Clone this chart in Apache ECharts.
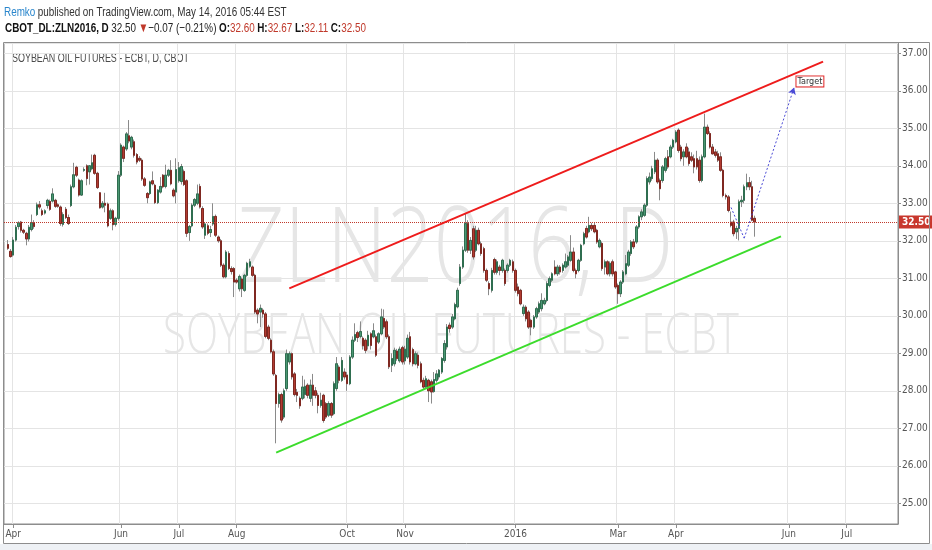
<!DOCTYPE html>
<html><head><meta charset="utf-8">
<script src="https://cdn.jsdelivr.net/npm/echarts@6/dist/echarts.min.js"></script>
<style>html,body{margin:0;padding:0;background:#fff}#c{width:932px;height:550px}</style>
</head><body><div id="c"></div>
<script>
// ---- data (daily candles, 2015-03-30 .. 2016-05-13) ----
const opens=[31.90,31.72,31.62,32.02,32.38,32.50,32.28,32.20,32.05,32.30,
32.48,32.70,32.96,32.80,32.74,32.94,33.05,33.06,33.08,32.96,
32.90,32.44,32.84,32.62,32.94,33.44,33.96,33.62,33.22,33.88,
34.00,33.84,33.92,34.28,33.80,33.28,32.90,33.00,32.98,32.60,
32.80,32.44,32.60,33.75,34.50,34.45,34.80,34.50,34.64,34.30,
34.20,34.15,33.65,33.26,33.26,33.60,33.48,33.02,33.30,33.75,
33.45,33.75,33.88,33.35,33.30,33.60,33.58,33.85,33.60,32.22,
32.40,32.95,33.00,33.45,32.86,32.15,32.40,32.22,32.45,32.65,
32.10,32.00,31.35,31.04,31.66,31.26,31.26,30.95,30.72,30.98,
30.68,31.08,31.32,31.30,31.08,30.15,30.10,30.15,30.05,29.70,
29.35,29.04,28.41,27.66,27.90,27.30,28.06,28.77,28.99,28.45,
27.96,27.80,27.80,27.90,28.15,27.80,28.15,28.00,27.88,27.61,
27.88,27.66,27.35,27.66,27.39,28.06,28.63,28.28,28.50,28.42,
28.19,28.90,29.35,29.55,29.45,29.40,29.35,29.20,29.52,29.44,
29.44,29.30,29.52,29.93,29.84,29.44,28.68,28.72,29.06,28.80,
29.15,28.80,28.90,29.44,29.10,28.72,28.95,28.72,28.28,28.10,
28.28,28.24,27.98,28.28,28.37,28.50,28.81,29.17,29.75,29.70,
29.92,30.24,30.86,31.30,31.75,32.46,31.75,32.32,31.75,32.28,
31.92,31.79,31.21,30.86,30.68,31.50,31.16,31.30,31.21,31.21,
31.21,31.35,31.44,31.21,30.77,30.68,30.06,30.23,30.10,29.88,
29.70,29.97,30.10,30.19,30.32,30.41,30.81,30.95,31.30,31.12,
31.30,31.21,31.30,31.35,31.48,31.70,31.21,31.21,31.48,31.92,
32.33,32.24,32.41,32.41,32.28,31.84,31.93,31.30,31.44,31.12,
31.44,31.17,30.81,30.59,30.90,31.12,31.35,31.66,31.97,31.97,
32.37,32.64,32.68,32.95,33.57,33.66,33.84,34.15,33.61,33.61,
33.88,34.24,34.24,34.50,34.64,34.95,34.50,34.24,34.50,34.37,
34.24,34.19,34.19,34.15,33.61,34.24,35.03,34.86,34.50,34.37,
34.32,34.24,33.88,33.21,33.17,32.50,32.50,32.24,32.33,33.04,
33.08,33.44,33.55,33.44,32.60];
const highs=[32.02,31.78,32.10,32.42,32.52,32.53,32.32,32.24,32.42,32.70,
32.55,33.02,33.06,32.86,32.84,33.12,33.10,33.40,33.12,33.00,
32.94,32.76,32.90,32.70,33.50,34.08,34.00,33.66,33.64,33.96,
34.04,34.02,34.30,34.32,33.84,33.30,33.06,33.28,33.02,32.86,
32.84,32.64,33.86,34.60,34.54,34.90,35.22,34.80,34.70,34.34,
34.26,34.20,33.70,33.30,33.60,33.85,33.52,33.38,33.70,33.78,
34.03,33.92,34.15,33.40,34.20,34.10,34.05,33.90,33.64,32.42,
33.00,33.14,33.50,33.52,32.92,32.50,32.46,32.40,33.00,32.70,
32.14,32.05,31.40,31.75,31.72,31.32,31.30,31.00,31.10,31.02,
31.12,31.44,31.52,31.34,31.12,30.20,30.30,30.20,30.10,29.76,
29.40,29.10,28.45,27.95,27.95,28.06,29.10,29.05,29.02,28.50,
28.05,27.85,28.40,28.30,28.20,28.30,28.45,28.10,27.95,27.95,
27.92,27.70,27.72,27.70,28.25,28.90,28.68,28.90,28.60,28.50,
28.95,29.45,29.80,29.60,29.85,29.45,29.40,29.60,29.56,29.80,
29.50,29.56,30.19,30.17,29.90,29.50,29.00,29.15,29.12,29.18,
29.20,29.20,29.50,29.57,29.15,29.05,29.02,28.78,28.35,28.40,
28.32,28.30,28.50,28.55,28.58,28.90,29.35,29.78,29.82,30.05,
30.35,30.75,31.38,31.85,32.72,32.55,32.10,32.40,32.40,32.35,
31.98,31.84,31.26,30.92,31.28,31.55,31.50,31.36,31.52,31.26,
31.40,31.52,31.50,31.26,30.86,30.72,30.30,30.28,30.15,29.92,
30.02,30.24,30.38,30.60,30.48,30.92,31.05,31.16,31.48,31.36,
31.35,31.40,31.66,31.62,32.15,31.82,31.26,31.52,31.92,32.24,
32.40,32.64,32.48,32.50,32.32,32.06,31.98,31.50,31.48,31.45,
31.50,31.20,30.86,30.95,31.22,31.62,31.76,32.02,32.05,32.42,
32.68,32.84,33.00,33.72,33.82,34.00,34.37,34.20,33.66,34.02,
34.24,34.42,34.56,34.72,34.95,35.00,34.56,34.44,34.60,34.48,
34.36,34.30,34.40,34.25,34.30,35.39,35.10,34.92,34.58,34.45,
34.40,34.36,33.92,33.26,33.22,32.78,32.56,32.40,33.10,33.20,
33.50,33.79,33.70,33.60,32.67];
const lows=[31.76,31.55,31.58,31.98,32.30,32.22,32.18,31.88,31.98,32.25,
32.32,32.66,32.84,32.66,32.70,32.86,32.80,33.02,32.88,32.88,
32.40,32.38,32.58,32.42,32.90,33.40,33.70,33.18,33.20,33.84,
33.48,33.50,33.88,33.76,33.38,32.86,32.86,32.76,32.36,32.56,
32.28,32.38,32.54,33.70,34.10,34.40,34.60,34.44,34.22,34.04,
34.10,33.60,33.44,33.00,33.22,33.48,32.98,32.98,33.26,33.40,
33.40,33.70,33.48,33.16,33.00,33.55,33.50,33.46,32.10,32.00,
32.36,32.90,32.95,32.86,32.32,32.05,32.15,32.10,32.40,32.10,
31.95,31.30,31.00,31.00,31.22,31.10,30.50,30.86,30.65,30.50,
30.64,31.04,31.28,31.04,30.05,29.80,29.70,29.95,29.40,29.35,
29.00,28.40,26.60,27.55,27.15,27.25,28.00,28.70,28.30,27.85,
27.70,27.52,27.75,27.80,27.80,27.70,27.60,27.80,27.40,27.55,
27.15,27.25,27.30,27.28,27.35,28.00,28.20,28.24,28.30,28.00,
28.15,28.85,29.30,29.30,29.40,29.10,29.00,29.10,29.10,29.40,
28.90,29.25,29.48,29.65,29.38,28.58,28.50,28.65,28.80,28.75,
28.70,28.70,28.85,28.70,28.65,28.68,28.60,28.20,28.05,28.05,
27.70,27.66,27.95,28.22,28.30,28.45,28.75,29.10,29.55,29.65,
29.88,30.20,30.80,31.25,31.70,31.68,31.65,31.50,31.70,31.88,
31.60,31.15,30.90,30.55,30.62,31.10,31.10,31.08,31.15,30.80,
31.15,31.30,31.15,30.62,30.52,30.28,30.00,29.85,29.65,29.48,
29.65,29.92,30.05,30.12,30.28,30.36,30.76,30.90,31.08,31.06,
31.10,31.15,31.26,31.30,31.44,31.16,31.00,31.16,31.44,31.88,
32.06,32.20,32.26,32.20,31.92,31.80,31.20,31.10,31.08,31.05,
31.05,30.72,30.32,30.50,30.85,31.08,31.30,31.60,31.78,31.92,
32.32,32.55,32.64,32.90,33.50,33.60,33.78,33.52,33.08,33.55,
33.82,33.92,34.20,34.45,34.60,34.35,34.12,34.00,34.20,34.00,
34.10,33.80,33.90,33.55,33.56,34.20,34.82,34.46,34.30,34.22,
34.10,33.84,33.16,33.10,32.76,32.36,32.12,32.05,32.01,32.90,
33.00,33.35,33.35,32.52,32.11];
const closes=[31.80,31.58,32.02,32.36,32.48,32.28,32.23,32.05,32.36,32.48,
32.38,32.96,32.90,32.70,32.80,33.08,32.84,33.25,32.92,32.92,
32.46,32.70,32.62,32.46,33.44,33.76,33.75,33.22,33.60,33.90,
33.66,34.00,34.08,33.80,33.42,32.88,33.00,32.95,32.40,32.80,
32.43,32.60,33.75,34.55,34.20,34.85,34.66,34.76,34.28,34.10,
34.15,33.65,33.48,33.15,33.57,33.52,33.02,33.35,33.45,33.44,
33.75,33.88,33.52,33.20,33.90,33.95,33.98,33.50,32.20,32.38,
32.95,33.10,33.25,32.90,32.37,32.45,32.20,32.30,32.65,32.15,
32.00,31.35,31.04,31.70,31.26,31.18,30.90,30.90,31.05,30.72,
31.08,31.40,31.44,31.08,30.10,30.05,30.20,30.05,29.45,29.40,
29.04,28.45,27.66,27.90,27.22,28.00,28.99,28.99,28.37,27.90,
27.88,27.60,28.10,28.12,27.88,28.15,27.88,27.88,27.61,27.75,
27.21,27.30,27.66,27.35,28.19,28.72,28.28,28.81,28.37,28.19,
28.90,29.35,29.50,29.42,29.58,29.20,29.08,29.48,29.21,29.60,
28.95,29.52,29.97,29.70,29.44,28.64,28.86,29.08,28.86,29.11,
28.77,29.11,29.40,28.77,28.72,28.99,28.68,28.24,28.10,28.32,
28.00,27.97,28.30,28.45,28.55,28.86,29.26,29.70,29.66,29.97,
30.30,30.68,31.30,31.75,32.46,31.75,32.01,31.57,32.28,31.92,
31.66,31.21,30.95,30.72,31.21,31.16,31.44,31.21,31.48,30.86,
31.35,31.48,31.21,30.68,30.59,30.32,30.23,29.92,29.70,29.70,
29.97,30.19,30.32,30.41,30.41,30.86,30.99,31.12,31.12,31.30,
31.17,31.35,31.44,31.57,31.70,31.21,31.12,31.48,31.88,32.19,
32.10,32.41,32.32,32.24,31.97,32.01,31.26,31.44,31.12,31.40,
31.12,30.77,30.59,30.90,31.17,31.39,31.70,31.97,31.84,32.37,
32.64,32.77,32.95,33.66,33.70,33.92,34.15,33.57,33.39,33.97,
34.19,33.97,34.50,34.68,34.90,34.41,34.19,34.37,34.24,34.06,
34.15,33.97,33.97,33.61,34.24,35.03,34.86,34.50,34.32,34.28,
34.15,33.88,33.21,33.17,32.81,32.41,32.19,32.33,33.04,33.08,
33.44,33.55,33.44,32.55,32.50];

// calendar: x axis starts one session before the first candle
const axisStart='2015-03-27';
const leadEmpty=1;
const totalSlots=340;
const holidays=['2015-04-03','2015-05-25','2015-07-03','2015-09-07','2015-11-26','2015-12-25','2016-01-01','2016-01-18','2016-02-15','2016-03-25'];
const tickDates=['2015-04-01','2015-06-01','2015-07-01','2015-08-03','2015-10-01','2015-11-02','2016-01-04','2016-03-01','2016-04-01','2016-06-01','2016-07-01'];
const tickLabels=['Apr','Jun','Jul','Aug','Oct','Nov','2016','Mar','Apr','Jun','Jul'];
const lastPrice=32.50;
const changeText='\u22120.07 (\u22120.21%)';
// drawn annotations: [slot index, price]
const redChannel=[[108,30.73],[311,36.78]];
const greenChannel=[[103,26.35],[295,32.12]];
const targetPath=[[276,32.89],[281,32.07],[300,36.09]];
const targetLabel=[306,36.25];

// ---- build categories ----
const dates=[];
(function(){
  const d=new Date(axisStart+'T00:00:00Z');
  const hol=new Set(holidays);
  while(dates.length<totalSlots){
    const s=d.toISOString().slice(0,10);
    const wd=d.getUTCDay();
    if(wd!==0&&wd!==6&&!hol.has(s))dates.push(s);
    d.setUTCDate(d.getUTCDate()+1);
  }
})();
const tickMap={};tickDates.forEach((t,i)=>tickMap[t]=tickLabels[i]);
const isTick=(i,v)=>tickMap[dates[i]]!==undefined;

const full=[],bodies=[];
for(let i=0;i<totalSlots;i++){
  const k=i-leadEmpty;
  if(k>=0&&k<closes.length){
    full.push([opens[k],closes[k],lows[k],highs[k]]);
    bodies.push([opens[k],closes[k],Math.min(opens[k],closes[k]),Math.max(opens[k],closes[k])]);
  }else{full.push('-');bodies.push('-');}
}
const n=closes.length-1;
const hdrFont='"Liberation Sans Narrow","DejaVu Sans Condensed","Liberation Sans",sans-serif';
const txtFont='"Liberation Sans",Arial,sans-serif';

const chart=echarts.init(document.getElementById('c'),null,{renderer:'canvas'});
chart.setOption({
  animation:false,
  backgroundColor:'#fff',
  grid:{left:4,right:34,top:43,bottom:26,show:true,borderColor:'#8d8d8d',borderWidth:1,backgroundColor:'transparent'},
  xAxis:{type:'category',data:dates,boundaryGap:true,
    axisLine:{show:true,lineStyle:{color:'#8d8d8d'}},
    axisTick:{show:true,interval:isTick,alignWithLabel:true,length:4,lineStyle:{color:'#8d8d8d'}},
    axisLabel:{interval:isTick,formatter:v=>tickMap[v]||'',color:'#555',fontSize:10,fontFamily:hdrFont,margin:5},
    splitLine:{show:true,interval:isTick,lineStyle:{color:'#e4e4e4',width:1}}},
  yAxis:{type:'value',position:'right',min:24.448,max:37.275,splitNumber:12,minInterval:1,maxInterval:1,scale:true,
    axisLine:{show:true,lineStyle:{color:'#8d8d8d'}},
    axisTick:{show:true,length:3,lineStyle:{color:'#8d8d8d'}},
    axisLabel:{showMinLabel:false,showMaxLabel:false,formatter:v=>v.toFixed(2),color:'#555',fontSize:10,fontFamily:hdrFont,margin:4},
    splitLine:{show:true,lineStyle:{color:'#e4e4e4',width:1}}},
  graphic:[
    {type:'rect',z:-10,silent:true,shape:{x:0,y:544,width:932,height:6},style:{fill:'#eef1f5'}},
    {type:'rect',z:100,silent:true,shape:{x:3.5,y:42.5,width:926,height:501},style:{fill:'none',stroke:'#8d8d8d',lineWidth:1}},
    {type:'text',z:1,silent:true,x:455,y:252,scaleX:0.78,style:{text:'ZLN2016, D',font:'300 106px "Open Sans"',fill:'#e6e6e6',textAlign:'center',textVerticalAlign:'middle'}},
    {type:'text',z:1,silent:true,x:451,y:337,scaleX:0.75,style:{text:'SOYBEAN OIL FUTURES - ECBT',font:'300 56px "Open Sans"',fill:'#e6e6e6',textAlign:'center',textVerticalAlign:'middle'}},
    {type:'text',silent:true,x:12,y:59,scaleX:0.745,style:{text:'SOYBEAN OIL FUTURES - ECBT, D, CBOT',font:'12px '+txtFont,fill:'#4a4a4a',textVerticalAlign:'middle'}},
    {type:'text',silent:true,x:4,y:12,scaleX:0.76,style:{text:'{b|Remko} {n|published on TradingView.com, May 14, 2016 05:44 EST}',textVerticalAlign:'middle',
      rich:{b:{fill:'#2a86cc',font:'13px '+txtFont},n:{fill:'#333',font:'13px '+txtFont}}}},
    {type:'text',silent:true,x:5,y:28,scaleX:0.76,style:{text:'{k|CBOT_DL:ZLN2016, D} {n|'+closes[n].toFixed(2)+'} {r|\u25BC}{n|'+changeText+'} {k|O:}{r|'+opens[n].toFixed(2)+'} {k|H:}{r|'+highs[n].toFixed(2)+'} {k|L:}{r|'+lows[n].toFixed(2)+'} {k|C:}{r|'+closes[n].toFixed(2)+'}',textVerticalAlign:'middle',
      rich:{k:{fill:'#111',font:'bold 13px '+txtFont},n:{fill:'#222',font:'13px '+txtFont},r:{fill:'#c0392b',font:'13px '+txtFont}}}}
  ],
  series:[
    {type:'candlestick',name:'wick',data:full,barWidth:2,z:3,silent:true,
      itemStyle:{color:'#8a8a8a',color0:'#8a8a8a',borderColor:'#8a8a8a',borderColor0:'#8a8a8a',borderWidth:1},
      markLine:{silent:true,symbol:'none',animation:false,
        data:[{yAxis:lastPrice,lineStyle:{type:'dotted',color:'#c0392b',width:1},
          label:{show:true,position:'end',distance:1,formatter:lastPrice.toFixed(2),color:'#fff',backgroundColor:'#c8372d',padding:[2,3,1,3],fontSize:10,fontWeight:'bold',fontFamily:hdrFont}}]}},
    {type:'candlestick',name:'body',data:bodies,barWidth:2,z:4,silent:true,
      itemStyle:{color:'#4b9874',color0:'#b23b31',borderColor:'#2f6e50',borderColor0:'#7f2821',borderWidth:1},
      markLine:{silent:true,symbol:'none',animation:false,label:{show:false},
        data:[
          [{coord:redChannel[0]},{coord:redChannel[1],lineStyle:{color:'#ee1c1c',width:2,type:'solid'}}],
          [{coord:greenChannel[0]},{coord:greenChannel[1],lineStyle:{color:'#3cdc2c',width:2,type:'solid'}}],
          [{coord:targetPath[0]},{coord:targetPath[1],lineStyle:{color:'#4b4bd6',width:1,type:[2,2]}}],
          [{coord:targetPath[1]},{coord:targetPath[2],symbol:'arrow',symbolSize:[6,7],lineStyle:{color:'#4b4bd6',width:1,type:[2,2]}}]
        ]},
      markPoint:{silent:true,animation:false,
        data:[{coord:targetLabel,symbol:'rect',symbolSize:1,itemStyle:{color:'transparent'},
          label:{show:true,position:'inside',formatter:'Target',color:'#333',fontSize:9,fontFamily:hdrFont,backgroundColor:'#fff',borderColor:'#e02424',borderWidth:1,padding:[1,1,0,1]}}]}}
  ]
});
</script>
</body></html>
